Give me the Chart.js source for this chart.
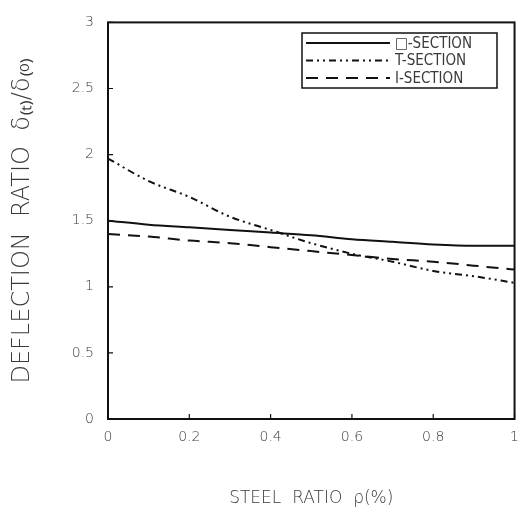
<!DOCTYPE html>
<html>
<head>
<meta charset="utf-8">
<script src="https://cdn.jsdelivr.net/npm/chart.js"></script>
<style>
  html, body { margin: 0; padding: 0; background: #fff; }
  #wrap { width: 529px; height: 518px; }
</style>
</head>
<body>
<div id="wrap"><canvas id="myChart"></canvas></div>
<script>
// steel ratio (%) along x, deflection ratio for each section type
var steelRatio = [0, 0.1, 0.2, 0.3, 0.4, 0.5, 0.6, 0.7, 0.8, 0.9, 1.0];
var boxSection = [1.50, 1.47, 1.45, 1.43, 1.41, 1.39, 1.36, 1.34, 1.32, 1.31, 1.31];
var tSection   = [1.97, 1.80, 1.68, 1.53, 1.43, 1.33, 1.25, 1.19, 1.12, 1.08, 1.03];
var iSection   = [1.40, 1.38, 1.35, 1.33, 1.30, 1.27, 1.24, 1.21, 1.19, 1.16, 1.13];
var seriesNames = ['\u25A1-SECTION', 'T-SECTION', 'I-SECTION'];
var xTickLabels = ['0', '0.2', '0.4', '0.6', '0.8', '1'];
var yTickLabels = ['0', '0.5', '1', '1.5', '2', '2.5', '3'];

var ink = '#111';
var textInk = '#3a3a3a';
var lightFont = "'DejaVu Sans', sans-serif";

function pts(ys) {
  return steelRatio.map(function (x, i) { return { x: x, y: ys[i] }; });
}

// box around the plot, small inward ticks, boxed legend
const framePlugin = {
  id: 'frame',
  afterDraw(chart) {
    const c = chart.ctx, a = chart.chartArea;
    const xs = chart.scales.x, ys = chart.scales.y;
    c.save();
    c.strokeStyle = ink;
    c.lineWidth = 2;
    c.strokeRect(a.left, a.top, a.right - a.left, a.bottom - a.top);
    c.lineWidth = 1.2;
    c.beginPath();
    xs.ticks.forEach(function (t) {
      const px = xs.getPixelForValue(t.value);
      c.moveTo(px, a.bottom); c.lineTo(px, a.bottom - 5);
    });
    ys.ticks.forEach(function (t) {
      const py = ys.getPixelForValue(t.value);
      c.moveTo(a.left, py); c.lineTo(a.left + 5, py);
    });
    c.stroke();

    // legend
    const lx = 302, ly = 33, lw = 195, lh = 55;
    c.lineWidth = 1.5;
    c.strokeRect(lx, ly, lw, lh);
    c.font = "15px 'DejaVu Sans Condensed', 'DejaVu Sans', sans-serif";
    c.textBaseline = 'middle';
    chart.data.datasets.forEach(function (ds, i) {
      const y = ly + 10 + i * 17.5;
      c.save();
      c.strokeStyle = ink;
      c.lineWidth = 2;
      c.setLineDash(ds.borderDash || []);
      c.beginPath();
      c.moveTo(lx + 4, y); c.lineTo(lx + 88, y);
      c.stroke();
      c.restore();
      c.fillStyle = textInk;
      c.fillText(ds.label, lx + 93, y + 1);
    });
    c.restore();
  }
};

const ctx = document.getElementById('myChart');

new Chart(ctx, {
  type: 'line',
  data: {
    datasets: [{
      label: seriesNames[0],
      data: pts(boxSection),
      borderColor: ink,
      borderWidth: 2,
      borderDash: []
    }, {
      label: seriesNames[1],
      data: pts(tSection),
      borderColor: ink,
      borderWidth: 2,
      borderDash: [7, 4, 2, 4, 2, 4]
    }, {
      label: seriesNames[2],
      data: pts(iSection),
      borderColor: ink,
      borderWidth: 2,
      borderDash: [12, 8]
    }]
  },
  options: {
    responsive: true,
    maintainAspectRatio: false,
    animation: false,
    devicePixelRatio: 1,
    layout: { padding: { left: 0, top: 13, right: 10, bottom: 0 } },
    elements: {
      point: { radius: 0 },
      line: { cubicInterpolationMode: 'monotone' }
    },
    plugins: {
      legend: { display: false },
      tooltip: { enabled: false }
    },
    scales: {
      x: {
        type: 'linear',
        min: 0,
        max: 1,
        afterFit: function (s) { s.height = 99; },
        grid: { display: false, drawTicks: false },
        border: { display: false },
        ticks: {
          stepSize: 0.2,
          padding: 10,
          color: textInk,
          font: { family: lightFont, size: 14, weight: '300' },
          callback: function (v, i) { return xTickLabels[i]; }
        },
        title: {
          display: true,
          text: 'STEEL  RATIO  \u03C1(%)',
          color: textInk,
          font: { family: lightFont, size: 17, weight: '300' },
          padding: { top: 18, bottom: 9 }
        }
      },
      y: {
        min: 0,
        max: 3,
        afterFit: function (s) { s.width = 108; },
        grid: { display: false, drawTicks: false },
        border: { display: false },
        ticks: {
          stepSize: 0.5,
          padding: 14,
          color: textInk,
          font: { family: lightFont, size: 14, weight: '300' },
          callback: function (v, i) { return yTickLabels[i]; }
        },
        title: {
          display: true,
          text: 'DEFLECTION  RATIO  \u03B4\u208D\u209C\u208E/\u03B4\u208D\u2080\u208E',
          color: textInk,
          font: { family: lightFont, size: 24, weight: '300' },
          padding: { top: 8, bottom: 6 }
        }
      }
    }
  },
  plugins: [framePlugin]
});
</script>
</body>
</html>
